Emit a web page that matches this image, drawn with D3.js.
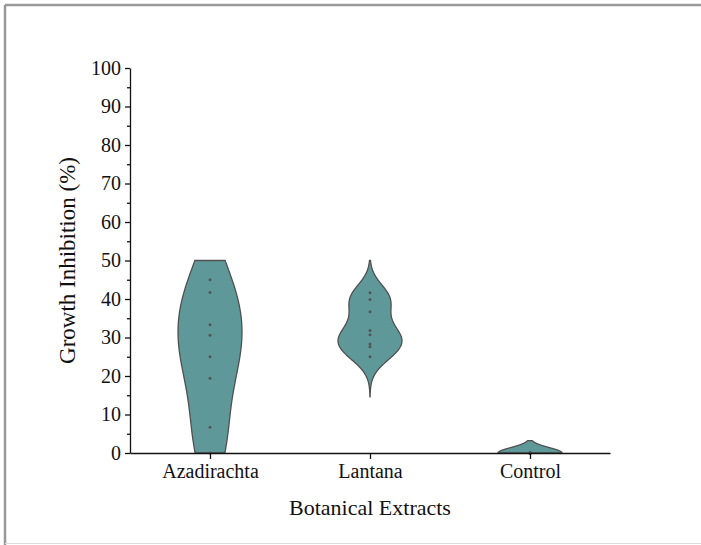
<!DOCTYPE html>
<html lang="en">
<head>
<meta charset="utf-8">
<title>Violin</title>
<script src="https://d3js.org/d3.v7.min.js"></script>
<style>
  body { margin: 0; background: #fff; }
  svg text { font-family: "Liberation Serif", "Times New Roman", serif; fill: #111; }
</style>
</head>
<body>
<script>
// categories and raw values
var groups = ["Azadirachta", "Lantana", "Control"];
var azadirachta = [0, 6.7, 19.4, 25, 30.6, 33.3, 41.7, 45];
var lantana = [25, 27.6, 28.3, 30.7, 31.8, 36.7, 39.9, 41.6];
var control = [0, 0, 0, 0, 0, 0, 0, 0];
// kernel bandwidth and drawn range of each violin
var bandwidths = [10, 3.45, 1.4];
var extents = [[0, 50], [14.6, 50], [0, 3.2]];
var yTicks = [0, 10, 20, 30, 40, 50, 60, 70, 80, 90, 100];

var W = 701, H = 545;
var margin = {top: 68, left: 130, right: 91, bottom: 92};
var width = W - margin.left - margin.right,
    height = H - margin.top - margin.bottom;
var maxHalf = 32;

var svg = d3.select("body").append("svg")
    .attr("width", W).attr("height", H);

// frame
svg.append("line").attr("x1", 5).attr("x2", W).attr("y1", 5).attr("y2", 5)
   .attr("stroke", "#999").attr("stroke-width", 2.5);
svg.append("line").attr("x1", 5).attr("x2", 5).attr("y1", 5).attr("y2", H)
   .attr("stroke", "#999").attr("stroke-width", 2.5);
svg.append("line").attr("x1", 5).attr("x2", W).attr("y1", H - 1.5).attr("y2", H - 1.5)
   .attr("stroke", "#ddd").attr("stroke-width", 1);

var g = svg.append("g").attr("transform", "translate(" + margin.left + "," + margin.top + ")");

var x = d3.scalePoint().domain(groups).range([0, width]).padding(0.5);
var y = d3.scaleLinear().domain([0, 100]).range([height, 0]);

function kde(values, bw, lo, hi) {
  var pts = d3.range(0, 121).map(function(i) { return lo + (hi - lo) * i / 120; });
  return pts.map(function(v) {
    var s = d3.sum(values, function(d) {
      var u = (v - d) / bw;
      return Math.exp(-0.5 * u * u);
    });
    return [v, s];
  });
}

var series = [azadirachta, lantana, control];
series.forEach(function(vals, i) {
  var dens = kde(vals, bandwidths[i], extents[i][0], extents[i][1]);
  var w = d3.scaleLinear().domain([0, d3.max(dens, function(d) { return d[1]; })]).range([0, maxHalf]);
  var cx = x(groups[i]);
  var area = d3.area()
      .x0(function(d) { return cx - w(d[1]); })
      .x1(function(d) { return cx + w(d[1]); })
      .y(function(d) { return y(d[0]); })
      .curve(d3.curveBasis);
  g.append("path").datum(dens)
   .attr("d", area)
   .attr("fill", "#5f9898")
   .attr("stroke", "#505050")
   .attr("stroke-width", 1.3);
  g.selectAll(".pt" + i).data(vals).enter().append("circle")
   .attr("cx", cx).attr("cy", function(d) { return y(d); })
   .attr("r", 1.5).attr("fill", "#555");
});

// axes
var yAxis = g.append("g").call(d3.axisLeft(y).tickValues(yTicks).tickSize(5).tickSizeOuter(0).tickPadding(4));
g.append("g").call(d3.axisLeft(y).tickValues(d3.range(5, 100, 10)).tickSize(3).tickFormat(""))
 .select(".domain").remove();
var xAxis = g.append("g").attr("transform", "translate(0," + height + ")")
 .call(d3.axisBottom(x).tickSize(6).tickSizeOuter(0).tickPadding(5));
g.selectAll(".domain").attr("stroke", "#111").attr("stroke-width", 1.3);
g.selectAll(".tick line").attr("stroke", "#111").attr("stroke-width", 1.3);
yAxis.selectAll("text").attr("font-size", 20).attr("font-family", "Liberation Serif").attr("fill", "#111");
xAxis.selectAll("text").attr("font-size", 20).attr("font-family", "Liberation Serif").attr("fill", "#111");

g.append("text")
 .attr("transform", "rotate(-90)")
 .attr("x", -height / 2).attr("y", -55)
 .attr("text-anchor", "middle")
 .attr("font-size", 23)
 .text("Growth Inhibition (%)");
g.append("text")
 .attr("x", width / 2).attr("y", height + 62)
 .attr("text-anchor", "middle")
 .attr("font-size", 22)
 .text("Botanical Extracts");
</script>
</body>
</html>
